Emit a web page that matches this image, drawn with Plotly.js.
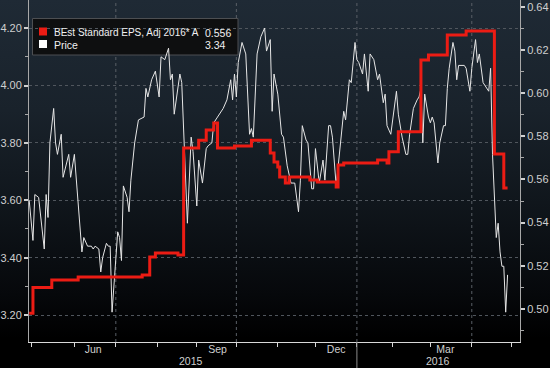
<!DOCTYPE html>
<html>
<head>
<meta charset="utf-8">
<script src="https://cdn.plot.ly/plotly-3.0.1.min.js"></script>
<style>
html, body { margin:0; padding:0; width:550px; height:368px; overflow:hidden;
  background: linear-gradient(180deg, #1f2a35 0%, #19222b 30%, #10161c 55%, #06080b 80%, #000000 92%); }
#chart { width:550px; height:368px; }
</style>
</head>
<body>
<div id="chart"></div>
<script>
// ---- Data ----
const priceDates = [
 '2015-04-27','2015-04-29','2015-04-30','2015-05-04','2015-05-07','2015-05-08','2015-05-11','2015-05-12','2015-05-14','2015-05-15',
 '2015-05-18','2015-05-20','2015-05-21','2015-05-27','2015-05-28','2015-06-01','2015-06-05','2015-06-08','2015-06-10','2015-06-12',
 '2015-06-15','2015-06-16','2015-06-18','2015-06-19','2015-06-22','2015-06-24','2015-06-25','2015-06-26','2015-06-29','2015-07-02',
 '2015-07-06','2015-07-07','2015-07-08','2015-07-10','2015-07-13','2015-07-14','2015-07-16','2015-07-20','2015-07-23','2015-07-24',
 '2015-07-27','2015-07-29','2015-07-31','2015-08-04','2015-08-05','2015-08-07','2015-08-11','2015-08-12','2015-08-13','2015-08-14',
 '2015-08-19','2015-08-20','2015-08-25','2015-08-27','2015-08-28','2015-09-01','2015-09-02','2015-09-04','2015-09-09','2015-09-10',
 '2015-09-14','2015-09-15','2015-09-17','2015-09-22','2015-09-24','2015-09-28','2015-09-29','2015-09-30','2015-10-01','2015-10-02',
 '2015-10-06','2015-10-08','2015-10-12','2015-10-13','2015-10-14','2015-10-15','2015-10-16','2015-10-20','2015-10-22','2015-10-23',
 '2015-10-27','2015-10-28','2015-10-29','2015-11-02','2015-11-04','2015-11-05','2015-11-09','2015-11-11','2015-11-13','2015-11-17',
 '2015-11-18','2015-11-19','2015-11-23','2015-11-24','2015-11-27','2015-11-30','2015-12-01','2015-12-03','2015-12-07','2015-12-08',
 '2015-12-10','2015-12-11','2015-12-14','2015-12-16','2015-12-18','2015-12-22','2015-12-23','2015-12-28','2015-12-29','2015-12-31',
 '2016-01-04','2016-01-05','2016-01-07','2016-01-08','2016-01-12','2016-01-13','2016-01-15','2016-01-20','2016-01-21','2016-01-25',
 '2016-01-26','2016-01-27','2016-01-29','2016-02-03','2016-02-04','2016-02-08','2016-02-10','2016-02-11','2016-02-12','2016-02-17',
 '2016-02-19','2016-02-22','2016-02-23','2016-02-24','2016-02-25','2016-02-29','2016-03-01','2016-03-02','2016-03-03','2016-03-07',
 '2016-03-08','2016-03-10','2016-03-11','2016-03-14','2016-03-15','2016-03-17','2016-03-18','2016-03-21','2016-03-22','2016-03-28',
 '2016-03-29','2016-03-31','2016-04-01','2016-04-05','2016-04-06','2016-04-07','2016-04-11','2016-04-12','2016-04-13','2016-04-14',
 '2016-04-15','2016-04-18','2016-04-20','2016-04-21','2016-04-22','2016-04-25','2016-04-26','2016-04-27','2016-04-28'
];
const priceValues = [
 3.60,3.46,3.62,3.61,3.43,3.62,3.54,3.80,3.92,3.80,
 3.76,3.83,3.68,3.76,3.68,3.76,3.42,3.47,3.44,3.44,
 3.43,3.44,3.43,3.35,3.40,3.45,3.44,3.44,3.21,3.49,
 3.47,3.39,3.65,3.61,3.56,3.67,3.80,3.88,3.89,3.99,
 3.96,4.02,4.05,3.96,4.10,4.09,4.13,4.02,4.04,3.90,
 4.04,4.01,3.52,3.82,3.77,3.58,3.74,3.66,3.78,3.79,
 3.80,3.87,3.89,3.92,3.95,4.02,3.95,4.04,3.96,4.08,
 4.15,4.11,3.83,3.85,3.82,3.99,4.11,4.17,4.20,4.12,
 4.16,3.91,4.04,3.97,3.83,3.82,3.72,3.66,3.66,3.56,
 3.67,3.86,3.81,3.80,3.64,3.64,3.78,3.66,3.74,3.67,
 3.86,3.86,3.82,3.65,3.78,3.91,3.88,4.02,4.01,4.15,
 4.09,4.08,4.04,4.11,3.98,4.11,4.09,4.02,4.04,3.94,
 3.97,3.86,3.83,3.98,3.90,3.82,3.76,3.76,3.83,3.92,
 3.95,3.96,3.99,3.80,3.97,3.89,3.87,3.89,3.87,3.73,
 3.80,3.86,3.86,3.99,4.06,4.15,4.12,4.02,4.07,4.07,
 4.06,3.98,4.06,4.16,4.08,4.11,4.01,4.00,3.99,3.98,
 4.06,3.76,3.47,3.52,3.42,3.37,3.37,3.21,3.34
];
const epsDates = [
 '2015-04-27','2015-04-29','2015-05-13','2015-06-03','2015-07-22','2015-07-28','2015-07-31','2015-08-18','2015-08-21','2015-09-02',
 '2015-09-09','2015-09-15','2015-09-17','2015-09-30','2015-10-13','2015-10-27','2015-10-29','2015-11-02','2015-11-03','2015-11-06',
 '2015-11-10','2015-11-25','2015-12-02','2015-12-16','2015-12-17','2015-12-22','2016-01-20','2016-01-27','2016-01-28','2016-02-04',
 '2016-02-23','2016-02-29','2016-03-14','2016-03-29','2016-04-19','2016-04-26','2016-04-28'
];
const epsValues = [
 0.498,0.510,0.5134,0.5148,0.5157,0.5241,0.5259,0.5250,0.5745,0.5782,
 0.5829,0.5861,0.5745,0.5755,0.5782,0.5722,0.5681,0.5657,0.5611,0.5583,
 0.5611,0.5597,0.5588,0.5565,0.5667,0.5676,0.5690,0.5676,0.5728,0.5821,
 0.6153,0.6176,0.6269,0.6288,0.5718,0.556,0.556
];
const seriesNames = ['BEst Standard EPS, Adj 2016* A', 'Price'];
const holidays = ['2015-05-25','2015-07-03','2015-09-07','2015-11-26','2015-12-25','2016-01-01','2016-01-18','2016-02-15','2016-03-25'];
const monthStarts = ['2015-04-28','2015-06-01','2015-07-01','2015-08-03','2015-09-01','2015-10-01','2015-11-02','2015-12-01',
                     '2016-01-04','2016-02-01','2016-03-01','2016-04-01','2016-05-02'];
const quarterStarts = ['2015-07-01','2015-10-01','2016-01-04','2016-04-01'];
const monthLabelDates = ['2015-06-15','2015-09-17','2015-12-16','2016-03-11'];
const monthLabels = ['Jun','Sep','Dec','Mar'];
const yearLabelDates = ['2015-08-27','2016-03-07'];
const yearLabels = ['2015','2016'];
const yearDivider = '2016-01-04';
const priceTicks = [3.2,3.4,3.6,3.8,4.0,4.2];
const priceMinor = [3.3,3.5,3.7,3.9,4.1];
const epsTicks = [0.50,0.52,0.54,0.56,0.58,0.60,0.62,0.64];
const epsMinor = [0.49,0.51,0.53,0.55,0.57,0.59,0.61,0.63];

// ---- Chart ----
const FONT = 'Liberation Sans, Arial, sans-serif';
const TXT = '#cfcfcf';
const px2x = p => (p - 29) / 491;
const py2y = p => 1 - p / 342;

const traces = [
  { x: priceDates, y: priceValues, type: 'scatter', mode: 'lines', name: seriesNames[1],
    line: { color: '#e6e6e6', width: 1 }, yaxis: 'y', hoverinfo: 'skip' },
  { x: epsDates, y: epsValues, type: 'scatter', mode: 'lines', name: seriesNames[0],
    line: { color: '#ec1c14', width: 3, shape: 'hv' }, yaxis: 'y2', hoverinfo: 'skip' }
];

const shapes = [];
quarterStarts.forEach(d => shapes.push({ type: 'line', xref: 'x', yref: 'paper', x0: d, x1: d, y0: 0, y1: 1,
  line: { color: '#5a5f66', width: 1, dash: 'dot' }, layer: 'below' }));
shapes.push({ type: 'line', xref: 'x', yref: 'paper', x0: yearDivider, x1: yearDivider, y0: -0.077, y1: 0,
  line: { color: '#8a8a8a', width: 1 } });
// legend box
shapes.push({ type: 'rect', xref: 'paper', yref: 'paper', x0: px2x(32.5), x1: px2x(238), y0: py2y(55), y1: py2y(18.5),
  fillcolor: '#0e0f10', line: { color: '#4d4f52', width: 1 }, layer: 'below' });
shapes.push({ type: 'rect', xref: 'paper', yref: 'paper', x0: px2x(39), x1: px2x(47), y0: py2y(35.5), y1: py2y(27.5),
  fillcolor: '#ec1c14', line: { width: 0 } });
shapes.push({ type: 'rect', xref: 'paper', yref: 'paper', x0: px2x(39), x1: px2x(47), y0: py2y(48), y1: py2y(40),
  fillcolor: '#ffffff', line: { width: 0 } });

const annotations = [];
yearLabels.forEach((t, i) => annotations.push({ x: yearLabelDates[i], xref: 'x', y: py2y(369), yref: 'paper',
  text: t, showarrow: false, xanchor: 'center', yanchor: 'bottom', font: { family: FONT, size: 10.5, color: TXT } }));
annotations.push({ x: px2x(51.5), y: py2y(32.5), xref: 'paper', yref: 'paper', text: seriesNames[0], showarrow: false,
  xanchor: 'left', yanchor: 'middle', font: { family: FONT, size: 10, color: '#f0f0f0' } });
annotations.push({ x: px2x(233), y: py2y(32.5), xref: 'paper', yref: 'paper',
  text: epsValues[epsValues.length - 1].toFixed(3), showarrow: false,
  xanchor: 'right', yanchor: 'middle', font: { family: FONT, size: 10.5, color: '#f0f0f0' } });
annotations.push({ x: px2x(51.5), y: py2y(44.5), xref: 'paper', yref: 'paper', text: seriesNames[1], showarrow: false,
  xanchor: 'left', yanchor: 'middle', font: { family: FONT, size: 10.5, color: '#f0f0f0' } });
annotations.push({ x: px2x(227.5), y: py2y(44.5), xref: 'paper', yref: 'paper',
  text: priceValues[priceValues.length - 1].toFixed(2), showarrow: false,
  xanchor: 'right', yanchor: 'middle', font: { family: FONT, size: 10.5, color: '#f0f0f0' } });

const layout = {
  width: 550, height: 368,
  margin: { l: 29, r: 30, t: 0, b: 26, pad: 0 },
  paper_bgcolor: 'rgba(0,0,0,0)', plot_bgcolor: 'rgba(0,0,0,0)',
  showlegend: false,
  font: { family: FONT, size: 11, color: TXT },
  xaxis: {
    type: 'date', range: ['2015-04-24 21:36', '2016-05-06 14:24'], automargin: false,
    rangebreaks: [{ bounds: ['sat', 'mon'] }, { values: holidays }],
    tickmode: 'array', tickvals: monthLabelDates, ticktext: monthLabels, ticks: '',
    ticklabelstandoff: -3,
    tickfont: { family: FONT, size: 10.5, color: TXT },
    showgrid: false, zeroline: false, showline: true, linecolor: '#d8d8d8', linewidth: 1,
    minor: { tickmode: 'array', tickvals: monthStarts, ticks: 'outside', ticklen: 4, tickwidth: 1,
             tickcolor: '#d8d8d8', showgrid: false }
  },
  yaxis: {
    range: [3.106, 4.298], automargin: false,
    tickmode: 'array', tickvals: priceTicks, tickformat: '.2f', ticks: 'outside', ticklen: 4, tickwidth: 2,
    tickcolor: '#d0d0d0', tickfont: { family: FONT, size: 11, color: TXT },
    showgrid: true, gridcolor: '#50565d', griddash: 'dot', gridwidth: 1,
    zeroline: false, showline: true, linecolor: '#a8a8a8', linewidth: 1,
    minor: { tickmode: 'array', tickvals: priceMinor, ticks: 'outside', ticklen: 3, tickwidth: 1,
             tickcolor: '#a8a8a8', showgrid: false }
  },
  yaxis2: {
    overlaying: 'y', side: 'right', range: [0.4847, 0.6431], automargin: false,
    tickmode: 'array', tickvals: epsTicks, tickformat: '.2f', ticks: 'outside', ticklen: 4, tickwidth: 2,
    tickcolor: '#d0d0d0', tickfont: { family: FONT, size: 11, color: TXT },
    showgrid: false, zeroline: false, showline: true, linecolor: '#a8a8a8', linewidth: 1,
    minor: { tickmode: 'array', tickvals: epsMinor, ticks: 'outside', ticklen: 3, tickwidth: 1,
             tickcolor: '#a8a8a8', showgrid: false }
  },
  shapes: shapes,
  annotations: annotations
};

Plotly.newPlot('chart', traces, layout, { staticPlot: true, displayModeBar: false });
</script>
</body>
</html>
